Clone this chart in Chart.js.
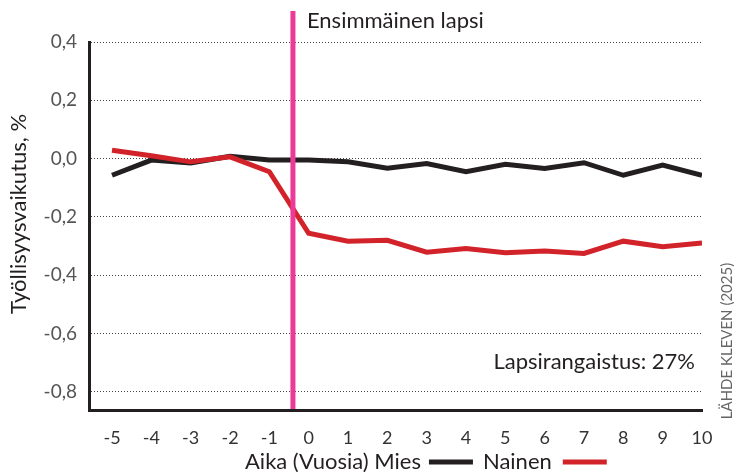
<!DOCTYPE html>
<html>
<head>
<meta charset="utf-8">
<script src="https://cdn.jsdelivr.net/npm/chart.js@4"></script>
<style>
  html, body { margin: 0; padding: 0; background: #fff; }
</style>
</head>
<body>
<canvas id="chart" width="734" height="472"></canvas>
<script>
// data
const years = [-5, -4, -3, -2, -1, 0, 1, 2, 3, 4, 5, 6, 7, 8, 9, 10];
const mies = [-0.057, -0.005, -0.015, 0.008, -0.005, -0.005, -0.011, -0.033, -0.017, -0.045, -0.019, -0.034, -0.014, -0.057, -0.022, -0.057];
const nainen = [0.029, 0.010, -0.011, 0.006, -0.045, -0.256, -0.283, -0.280, -0.321, -0.308, -0.323, -0.317, -0.325, -0.283, -0.302, -0.289];
const yTicks = [0.4, 0.2, 0, -0.2, -0.4, -0.6, -0.8];
const firstChild = -0.4;

const FONT = 'Lato, "Open Sans", sans-serif';
const BLACK = '#231f20';
const RED = '#d2232a';
const PINK = '#ec3a96';

const toPoints = vals => years.map((yr, i) => ({ x: yr, y: vals[i] }));

const extras = {
    id: 'extras',
    afterDatasetsDraw(chart) {
        const { ctx, scales: { x }, chartArea } = chart;
        const px = x.getPixelForValue(firstChild);
        ctx.save();

        // first child marker
        ctx.strokeStyle = PINK;
        ctx.lineWidth = 5;
        ctx.beginPath();
        ctx.moveTo(px, 11);
        ctx.lineTo(px, chartArea.bottom - 1);
        ctx.stroke();

        ctx.fillStyle = BLACK;
        ctx.textBaseline = 'middle';
        ctx.font = `22px ${FONT}`;
        ctx.textAlign = 'left';
        ctx.fillText('Ensimmäinen lapsi', px + 14, 21);
        ctx.textAlign = 'right';
        ctx.fillText('Lapsirangaistus: 27%', 695, 362);

        // y title
        ctx.save();
        ctx.translate(19, 214);
        ctx.rotate(-Math.PI / 2);
        ctx.textAlign = 'center';
        ctx.font = `22px ${FONT}`;
        ctx.fillText('Työllisyysvaikutus, %', 0, 0);
        ctx.restore();

        // source
        ctx.save();
        ctx.translate(727, 341);
        ctx.rotate(-Math.PI / 2);
        ctx.textAlign = 'center';
        ctx.fillStyle = '#666';
        ctx.font = `15px ${FONT}`;
        ctx.fillText('LÄHDE KLEVEN (2025)', 0, 0);
        ctx.restore();

        // legend line at the bottom
        const ly = 462;
        let lx = 245;
        ctx.textAlign = 'left';
        ctx.font = `22px ${FONT}`;
        ctx.fillStyle = BLACK;
        const t1 = 'Aika (Vuosia) Mies';
        ctx.fillText(t1, lx, ly);
        lx += ctx.measureText(t1).width + 8;
        ctx.lineWidth = 5;
        ctx.strokeStyle = BLACK;
        ctx.beginPath(); ctx.moveTo(lx, ly); ctx.lineTo(lx + 44, ly); ctx.stroke();
        lx += 44 + 10;
        ctx.fillText('Nainen', lx, ly);
        lx += ctx.measureText('Nainen').width + 11;
        ctx.strokeStyle = RED;
        ctx.beginPath(); ctx.moveTo(lx, ly); ctx.lineTo(lx + 44, ly); ctx.stroke();

        ctx.restore();
    }
};

new Chart(document.getElementById('chart'), {
    type: 'line',
    data: {
        datasets: [
            { label: 'Mies', data: toPoints(mies), borderColor: BLACK, borderWidth: 5, order: 1 },
            { label: 'Nainen', data: toPoints(nainen), borderColor: RED, borderWidth: 5, order: 0 }
        ]
    },
    options: {
        responsive: false,
        animation: false,
        layout: { padding: { top: 42, right: 32, bottom: 0, left: 0 } },
        elements: {
            point: { radius: 0 },
            line: { tension: 0, borderJoinStyle: 'miter', fill: false }
        },
        plugins: {
            legend: { display: false },
            tooltip: { enabled: false }
        },
        scales: {
            x: {
                type: 'linear',
                min: -5.585,
                max: 10,
                afterBuildTicks: s => { s.ticks = years.map(v => ({ value: v })); },
                afterFit: s => { s.height = 62; },
                grid: { display: false },
                border: { color: BLACK, width: 3 },
                ticks: {
                    padding: 9,
                    color: '#333',
                    maxRotation: 0,
                    autoSkip: false,
                    font: { family: FONT, size: 18 },
                    callback: v => String(v)
                }
            },
            y: {
                min: -0.862,
                max: 0.4,
                afterBuildTicks: s => { s.ticks = yTicks.map(v => ({ value: v })); },
                afterFit: s => { s.width = 89; },
                grid: { color: '#444', lineWidth: 1, drawTicks: false },
                border: { color: BLACK, width: 3, dash: [1, 2] },
                ticks: {
                    padding: 12,
                    color: '#555',
                    font: { family: FONT, size: 19 },
                    callback: v => v.toFixed(1).replace('.', ',')
                }
            }
        }
    },
    plugins: [extras]
});
</script>
</body>
</html>
